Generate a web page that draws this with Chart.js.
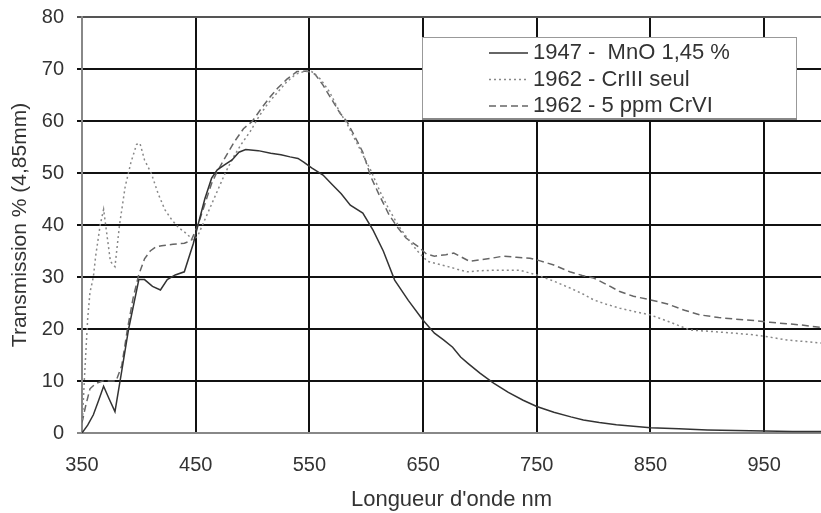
<!DOCTYPE html>
<html>
<head>
<meta charset="utf-8">
<script src="https://cdn.jsdelivr.net/npm/chart.js@4.4.0/dist/chart.umd.min.js"></script>
<style>
  html, body { margin: 0; padding: 0; background: #fff; }
</style>
</head>
<body>
<canvas id="chart" width="821" height="513"></canvas>
<script>
// x ticks shown on the wavelength axis
const xTicks = [350, 450, 550, 650, 750, 850, 950];

const seriesLabels = ['1947 -  MnO 1,45 %', '1962 - CrIII seul', '1962 - 5 ppm CrVI'];

// 1947 - MnO 1,45 %
const mnoNm = [350, 355, 360, 365, 369, 374, 379, 385, 391, 400, 405, 412, 419, 425, 432, 440, 448, 452, 458, 464,
  469, 475, 482, 488, 494, 505, 516, 525, 533, 540, 545, 552, 562, 570, 578, 586, 597, 606, 615, 625,
  637, 650, 660, 668, 676, 683, 690, 700, 712, 725, 738, 750, 765, 780, 791, 805, 820, 835, 850, 875,
  900, 925, 950, 975, 1000];
const mnoT = [0, 1.5, 3.5, 6.5, 9, 6.5, 4.1, 12, 20, 29.5, 29.5, 28.2, 27.5, 29.5, 30.4, 31, 36.5, 40, 45, 49,
  50.6, 51.5, 52.5, 54, 54.5, 54.3, 53.8, 53.5, 53.1, 52.8, 52.1, 51, 49.6, 47.8, 46, 43.8, 42.3, 39, 35, 29.4,
  25.5, 21.7, 19.2, 17.9, 16.5, 14.6, 13.3, 11.5, 9.6, 7.8, 6.3, 5.1, 4, 3.1, 2.5, 2, 1.6, 1.3, 1.0, 0.8,
  0.6, 0.5, 0.4, 0.3, 0.3];

// 1962 - CrIII seul
const cr3Nm = [350, 352, 355, 357, 360, 362, 366, 369, 372, 375, 379, 383, 388, 393, 398, 401, 405, 411, 417, 423,
  429, 435, 441, 448, 452, 458, 464, 470, 476, 483, 490, 498, 506, 514, 522, 530, 538, 545, 552, 560,
  568, 576, 583, 590, 597, 604, 612, 620, 628, 636, 645, 654, 663, 672, 680, 689, 700, 712, 724, 735,
  750, 765, 779, 790, 800, 812, 823, 835, 850, 865, 885, 905, 923, 940, 953, 970, 985, 1000];
const cr3T = [0.6, 10, 22, 27, 30, 34, 40, 43, 38, 33, 32, 40, 47.4, 52, 55.5, 55.7, 52.5, 49.9, 46, 42.9,
  41, 39.5, 38.5, 37.1, 38, 41, 44, 47, 50, 53, 55.5, 58, 61, 63.5, 65.5, 67.5, 69, 69.5, 69.5, 68,
  65.5, 62, 59.5, 56.5, 53.5, 50.5, 46.5, 43, 40, 37.5, 35, 33, 32.5, 32, 31.5, 31, 31.2, 31.3, 31.3, 31.3,
  30.4, 29.2, 27.9, 26.8, 25.6, 24.7, 24, 23.4, 22.7, 21.5, 19.8, 19.5, 19.2, 18.9, 18.5, 17.9, 17.6, 17.3];

// 1962 - 5 ppm CrVI
const cr6Nm = [350, 353, 357, 362, 368, 375, 380, 385, 390, 395, 400, 405, 410, 415, 420, 430, 440, 446, 452, 458,
  464, 469, 476, 484, 492, 500, 508, 515, 522, 530, 539, 548, 555, 562, 570, 577, 583, 590, 597, 604,
  612, 620, 627, 635, 646, 653, 660, 670, 677, 684, 691, 700, 710, 720, 732, 744, 753, 765, 779, 790,
  800, 812, 823, 835, 850, 865, 880, 894, 910, 925, 938, 955, 970, 982, 1000];
const cr6T = [2, 5, 8.5, 9.5, 10, 10, 10, 13, 20, 26, 30.5, 33.5, 35, 35.8, 36, 36.3, 36.5, 37, 40, 44,
  48, 50.3, 53, 56, 58.5, 60, 62.5, 64.5, 66.3, 68, 69.5, 69.6, 69, 66.9, 64, 61.5, 59.9, 57, 54, 49.3,
  45.5, 42, 39.7, 37.5, 35.8, 34.4, 34, 34.3, 34.6, 33.8, 33, 33.3, 33.6, 34, 33.8, 33.6, 33.1, 32.3, 31, 30.3,
  29.8, 28.5, 27.2, 26.3, 25.6, 24.8, 23.6, 22.7, 22.2, 21.9, 21.7, 21.3, 21, 20.8, 20.3];

function toPoints(xs, ys) {
  return xs.map((x, i) => ({ x: x, y: ys[i] }));
}

const FONT = "'Liberation Sans', Arial, sans-serif";
const TEXT = '#333';

// legend drawn inside the plot, in a white box
const legendBox = {
  id: 'legendBox',
  afterDatasetsDraw(chart) {
    const { ctx, chartArea } = chart;
    const bx = chartArea.left + 340, by = chartArea.top + 20, bw = 374, bh = 81;
    ctx.save();
    ctx.fillStyle = '#fff';
    ctx.fillRect(bx, by, bw, bh);
    ctx.strokeStyle = '#999';
    ctx.lineWidth = 1;
    ctx.strokeRect(bx + 0.5, by + 0.5, bw, bh);
    ctx.fillStyle = '#888';
    ctx.fillRect(bx, by + bh, bw + 1, 2);
    ctx.font = '22px ' + FONT;
    ctx.textBaseline = 'middle';
    chart.data.datasets.forEach((ds, i) => {
      const y = by + 16 + i * 26.5;
      ctx.strokeStyle = ds.borderColor;
      ctx.lineWidth = ds.borderWidth;
      ctx.setLineDash(ds.borderDash || []);
      ctx.beginPath();
      ctx.moveTo(bx + 67, y);
      ctx.lineTo(bx + 106, y);
      ctx.stroke();
      ctx.setLineDash([]);
      ctx.fillStyle = TEXT;
      ctx.fillText(ds.label, bx + 111, y);
    });
    ctx.restore();
  }
};

new Chart(document.getElementById('chart'), {
  type: 'line',
  data: {
    datasets: [
      {
        label: seriesLabels[0],
        data: toPoints(mnoNm, mnoT),
        borderColor: '#333',
        borderWidth: 1.5,
        pointRadius: 0,
        tension: 0
      },
      {
        label: seriesLabels[1],
        data: toPoints(cr3Nm, cr3T),
        borderColor: '#888',
        borderWidth: 1.5,
        borderDash: [2, 3],
        pointRadius: 0,
        tension: 0
      },
      {
        label: seriesLabels[2],
        data: toPoints(cr6Nm, cr6T),
        borderColor: '#666',
        borderWidth: 1.5,
        borderDash: [7, 4],
        pointRadius: 0,
        tension: 0
      }
    ]
  },
  options: {
    responsive: false,
    animation: false,
    layout: { padding: { top: 17, right: 0, bottom: 0, left: 0 } },
    plugins: {
      legend: { display: false },
      tooltip: { enabled: false }
    },
    scales: {
      x: {
        type: 'linear',
        min: 350,
        max: 1000,
        afterBuildTicks: (axis) => { axis.ticks = xTicks.map(v => ({ value: v })); },
        afterFit: (axis) => {
          axis.height = 80;
          axis.paddingLeft = 0;
          axis.paddingRight = 0;
        },
        grid: {
          color: (c) => (c.tick && c.tick.value === 350 ? '#888' : '#111'),
          lineWidth: 2,
          drawTicks: false
        },
        border: { display: true, color: '#888', width: 2 },
        ticks: {
          padding: 20,
          color: TEXT,
          font: { family: FONT, size: 20 },
          maxRotation: 0
        },
        title: {
          display: true,
          text: "Longueur d'onde nm",
          color: TEXT,
          font: { family: FONT, size: 22 },
          padding: { top: 0, bottom: 0 }
        }
      },
      y: {
        min: 0,
        max: 80,
        afterFit: (axis) => {
          axis.width = 82;
          axis.paddingTop = 0;
          axis.paddingBottom = 0;
        },
        grid: {
          color: (c) => {
            const v = c.tick && c.tick.value;
            if (v === 0) return '#888';
            if (v === 80) return '#555';
            return '#111';
          },
          lineWidth: 2,
          tickLength: 5
        },
        border: { display: true, color: '#888', width: 2 },
        ticks: {
          stepSize: 10,
          padding: 13,
          color: TEXT,
          font: { family: FONT, size: 20 }
        },
        title: {
          display: true,
          text: 'Transmission % (4,85mm)',
          color: TEXT,
          font: { family: FONT, size: 21 },
          padding: { top: 8, bottom: 0 }
        }
      }
    }
  },
  plugins: [legendBox]
});
</script>
</body>
</html>
